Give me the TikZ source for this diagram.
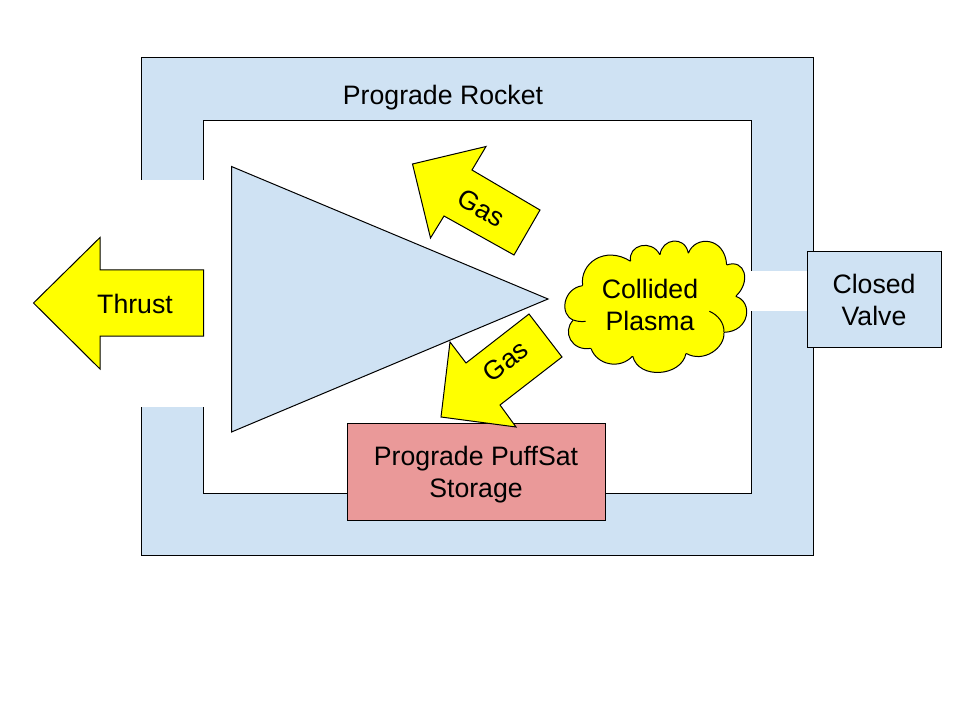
\documentclass[tikz,border=0pt]{standalone}
\usepackage{fontspec}
\setmainfont{Liberation Sans}
\definecolor{lblue}{HTML}{CFE2F3}
\definecolor{lred}{HTML}{EA9999}
\definecolor{yel}{HTML}{FFFF00}
\tikzset{
  shapeline/.style={draw=black,line width=0.75pt,line join=miter},
  blueshape/.style={shapeline,fill=lblue},
  yellowshape/.style={shapeline,fill=yel},
  label/.style={font=\fontsize{20}{24}\selectfont,align=center,text=black,inner sep=0pt},
  boxnode/.style={shapeline,label,anchor=center}
}
\begin{document}
\begin{tikzpicture}[x=0.75pt,y=-0.75pt]
\useasboundingbox (0,0) rectangle (960,720);
\fill[white] (0,0) rectangle (960,720);
% rocket frame
\path[blueshape,even odd rule] (141,57.5) rectangle (813,555) (203.5,120.5) rectangle (751,493);
\fill[white] (139,180) rectangle (204.7,407);
\fill[white] (750,271) rectangle (808,311);
\node[label] (rocket) at (443,97.5) {Prograde Rocket};
% nozzle triangle
\path[blueshape] (231.5,166.5) -- (548,299) -- (231.5,432) -- cycle;
% thrust
\path[yellowshape] (33.5,303) -- (100,237.5) -- (100,270) -- (203.5,270) -- (203.5,336) -- (100,336) -- (100,369) -- cycle;
\node[label] (thrust) at (135,303.5) {Thrust};
% storage and valve
\node[boxnode,fill=lred,minimum width=193.5pt,minimum height=72.75pt] (storage) at (476,471.5) {};
\node[label] (storagetext) at (476,474.5) {Prograde PuffSat\\Storage};
\node[boxnode,fill=lblue,minimum width=100.5pt,minimum height=71.25pt] (valve) at (874,299.5) {Closed\\Valve};
% gas arrows
\path[yellowshape] (412.5,164) -- (486,146.5) -- (472,170) -- (540,210) -- (514,255) -- (444,216) -- (430.5,238) -- cycle;
\node[label,rotate=-30] (gasup) at (481,208) {Gas};
\path[yellowshape] (529,314) -- (562,357) -- (500,405) -- (516,427) -- (441,417) -- (450,342) -- (466,363) -- cycle;
\node[label,rotate=37] (gasdown) at (505.5,361) {Gas};
% plasma cloud
\begin{scope}[shift={(540,220)},x=0.25pt,y=-0.25pt]
\path[yellowshape]
  (128,197) .. controls (118,130) and (195,75) .. (272,124)
  .. controls (262,75) and (335,55) .. (360,105)
  .. controls (365,55) and (435,45) .. (445,100)
  .. controls (465,45) and (555,50) .. (560,135)
  .. controls (615,115) and (635,185) .. (587,229)
  .. controls (640,245) and (630,335) .. (552,337)
  .. controls (555,385) and (490,430) .. (438,400)
  .. controls (425,470) and (295,480) .. (278,408)
  .. controls (240,450) and (170,435) .. (153,385)
  .. controls (95,395) and (65,335) .. (100,300)
  .. controls (58,285) and (68,205) .. (128,197) -- cycle;
\path[fill=yel] (272,124) -- (360,105) -- (445,100) -- (560,135) -- (587,229) -- (552,337) -- (438,400) -- (278,408) -- (153,385) -- (100,300) -- (128,197) -- cycle;
\draw[shapeline] (552,337) .. controls (553,310) and (535,285) .. (508,274);
\draw[shapeline] (100,300) .. controls (110,304) and (124,306) .. (137,304);
\end{scope}
\node[label] (plasma) at (650,304.5) {Collided\\Plasma};
\end{tikzpicture}
\end{document}
